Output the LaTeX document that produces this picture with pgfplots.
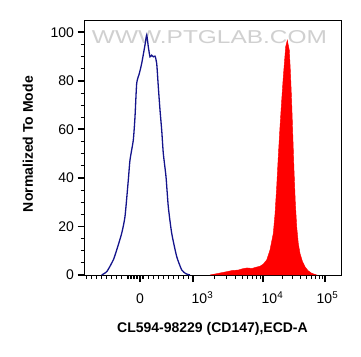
\documentclass[border=0pt]{standalone}
\usepackage{pgfplots}
\pgfplotsset{compat=1.18}
\usepackage{fontspec}
\setmainfont{Liberation Sans}
\usepackage{graphicx}
\definecolor{navyline}{RGB}{20,20,140}
\definecolor{wm}{RGB}{208,208,208}
\begin{document}
\begin{tikzpicture}[x=1pt,y=1pt]
\path[use as bounding box, fill=white] (0,0) rectangle (361,356);
\node[text=wm, inner sep=0] at (209.5,318.5) {\resizebox{235pt}{13pt}{WWW.PTGLAB.COM}};
\begin{axis}[
  scale only axis, width=257pt, height=255pt,
  at={(84pt,80.3pt)}, anchor=south west,
  xmin=84, xmax=341, ymin=-0.3, ymax=104.8,
  axis line style={line width=0.9pt},
  tick align=outside,
  xtick pos=left, ytick pos=left,
  major tick length=6.5pt, minor tick length=3.5pt,
  major tick style={black, line width=1.8pt},
  minor tick style={black, line width=0.8pt},
  xtick={140,192.7,263.3,325},
  xticklabels={0,
    \makebox[0pt][l]{\hspace{-1pt}10\textsuperscript{3}},
    \makebox[0pt][l]{\hspace{-1.6pt}10\textsuperscript{4}},
    \makebox[0pt][l]{\hspace{-8.3pt}10\textsuperscript{5}}},
  minor xtick={86.7,91.7,96.7,101.7,106.7,111.7,116.7,121.7,
    127,128.5,130,131.5,133,134.5,136,137.5,139,140.5,142,143.5,
    148.3,153.3,158.3,163.3,168.3,173.3,178.3,183.3,188.3,
    213.9,226.4,235.2,242.0,247.6,252.4,256.5,260.1,
    281.9,292.7,300.4,306.4,311.3,315.4,319.0,322.2},
  ytick={0,20,40,60,80,100},
  yticklabels={0,20,40,60,80,100},
  minor ytick={5,10,15,25,30,35,45,50,55,65,70,75,85,90,95},
  xticklabel style={font=\fontsize{14}{16}\selectfont, anchor=base, yshift=-21.5pt},
  yticklabel style={font=\fontsize{14}{16}\selectfont},
  xlabel={\textbf{CL594-98229 (CD147),ECD-A}},
  ylabel={\textbf{Normalized To Mode}},
  every axis x label/.style={at={(axis description cs:0.5,-0.208)}, anchor=center, font=\fontsize{14}{16}\selectfont},
  every axis y label/.style={at={(axis description cs:-0.218,0.516)}, anchor=center, rotate=90, font=\fontsize{14}{16}\selectfont},
]
\addplot[fill=red, draw=red, line width=0.4pt] table {
x y
210 0
214 0.3
220 0.8
226 1.3
233 1.9
238 2.0
243 2.6
247 2.9
252 2.7
256 3.2
260 3.6
263.3 4.5
266.7 6.2
270 10.3
273.3 17.2
275 25
276.7 36.4
278.3 49
280 61.1
281.7 72
283.3 81.7
285.7 94.1
287.3 96.8
289.3 92.7
290.5 83
291.7 70.8
294 43.3
295.3 30
296.7 19.9
298.3 13
300 8.9
302.5 5.5
305 3.4
308 1.8
311.7 0.7
316.7 0
} \closedcycle;
\addplot[navyline, line width=1.3pt, smooth, tension=0.35] table {
x y
101.7 0
107 1.5
113.3 6.2
116.7 10.3
121.7 17.2
125 24.1
128.3 39.1
130 47.4
133.3 55.6
135 65.2
136.7 79
139.3 83
141.7 87.2
145 94.8
146.7 98.9
148.3 94.1
150 89.9
151.7 90.6
153.3 89.9
155 90.2
156.7 87.2
158.3 77.6
160 68
161.7 59.7
163.3 50.1
166 40.5
168.3 28.1
171.7 17.2
176.7 7.6
181.7 2.1
186 0.5
190 0
};
\end{axis}
\end{tikzpicture}
\end{document}
